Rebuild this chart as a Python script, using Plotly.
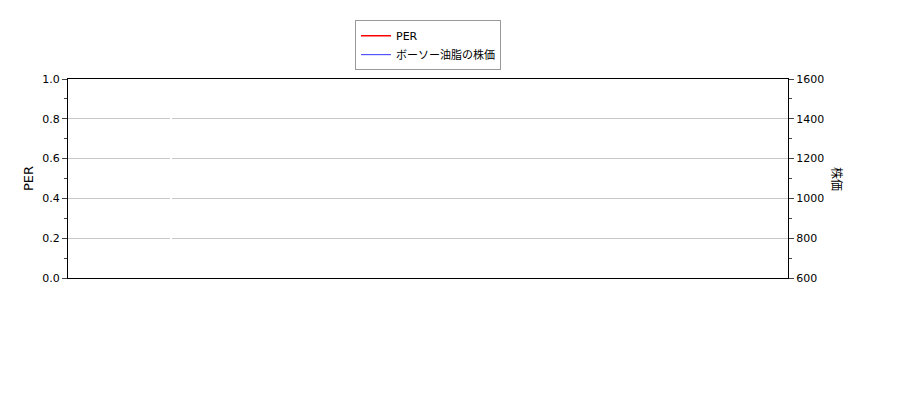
import plotly.graph_objects as go
import pandas as pd

dates = ["2018-09-25","2018-09-27","2018-10-05","2018-10-08","2018-10-12","2018-10-16","2018-10-19","2018-10-22","2018-10-26","2018-11-02","2018-11-05","2018-11-07","2018-11-16","2018-11-22","2018-11-26","2018-11-28","2018-12-05","2018-12-10","2018-12-12","2018-12-17","2018-12-20","2018-12-25","2018-12-27","2018-12-28","2019-01-04","2019-01-07","2019-01-08","2019-01-15","2019-01-18","2019-01-22","2019-01-25","2019-01-29","2019-01-31","2019-02-01","2019-02-05","2019-02-08","2019-02-12","2019-02-15","2019-02-19","2019-02-22","2019-02-25","2019-03-08","2019-03-11","2019-03-13","2019-03-15","2019-03-19","2019-03-22","2019-03-25","2019-03-29","2019-04-08","2019-04-12","2019-04-15","2019-04-18","2019-04-22","2019-04-24","2019-04-26","2019-05-07","2019-05-09","2019-05-10","2019-05-14","2019-05-16","2019-05-21","2019-05-24","2019-06-05","2019-06-10","2019-06-13","2019-06-19","2019-06-24","2019-06-28","2019-07-01","2019-07-03","2019-07-08","2019-07-12","2019-07-17","2019-07-22","2019-07-25","2019-08-01","2019-08-08","2019-08-13","2019-08-19","2019-08-22","2019-08-26","2019-09-05","2019-09-13","2019-09-19","2019-09-24","2019-09-26","2019-09-30","2019-10-07","2019-10-10","2019-10-15","2019-10-22","2019-11-01","2019-11-08","2019-11-15","2019-11-22","2019-12-02","2019-12-12","2019-12-20","2020-01-07","2020-01-10","2020-01-14","2020-01-20","2020-01-28","2020-01-31","2020-02-03","2020-02-06","2020-02-10","2020-02-14","2020-02-18","2020-02-21","2020-02-25","2020-02-28","2020-03-02","2020-03-05","2020-03-09","2020-03-10","2020-03-13","2020-03-17","2020-03-19","2020-03-23","2020-03-25","2020-03-27","2020-03-30","2020-04-01","2020-04-06","2020-04-07","2020-04-09","2020-04-13","2020-04-17","2020-04-20","2020-04-23","2020-04-28","2020-05-01","2020-05-05","2020-05-11","2020-05-13","2020-05-14","2020-05-15","2020-05-18","2020-05-20","2020-06-01","2020-07-01","2020-08-01","2020-09-22"]
prices = [1490,1500,1500,1480,1480,1470,1460,1490,1480,1480,1430,1450,1450,1430,1440,1470,1460,1420,1450,1450,1420,1430,1380,1300,1230,1300,1260,1260,1270,1270,1290,1290,1360,1280,1270,1260,1300,1320,1310,1350,1380,1380,1390,1330,1280,1300,1300,1380,1380,1370,1340,1280,1310,1230,1310,1280,1300,1270,1230,1200,1230,1180,1120,1120,1050,1040,1010,960,990,1010,980,990,970,1000,1020,1000,990,950,950,930,950,940,910,880,870,910,950,910,910,890,860,880,890,880,880,870,860,850,860,870,880,920,910,920,940,920,960,970,950,920,910,900,870,860,820,760,800,660,620,650,700,750,700,660,680,680,760,720,750,760,800,790,800,790,760,750,750,850,1000,1070,1080,1075,1075,1075,1075]
per_dates = [None]
per_values = [None]
tick_dates = ["2018-09-25","2018-10-16","2018-11-05","2018-11-26","2018-12-14","2019-01-10","2019-01-31","2019-02-21","2019-03-13","2019-04-03","2019-04-23","2019-05-21","2019-06-10","2019-06-28","2019-07-19","2019-08-08","2019-08-29","2019-09-19","2019-10-10","2019-11-01","2019-11-22","2019-12-12","2020-01-07","2020-01-28","2020-02-18","2020-03-10","2020-03-31","2020-04-20","2020-05-14","2020-06-03","2020-06-23","2020-07-13","2020-08-04","2020-08-25","2020-09-14"]

fig = go.Figure()
fig.add_trace(go.Scatter(x=per_dates, y=per_values, name="PER", mode="lines", line=dict(color="red", width=1.5)))
fig.add_trace(go.Scatter(x=pd.to_datetime(dates), y=prices, name="ボーソー油脂の株価", mode="lines", line=dict(color="blue", width=0.8), yaxis="y2"))

td = pd.to_datetime(tick_dates)
fig.update_layout(
    width=900, height=400, margin=dict(l=60, r=120, t=60, b=130),
    plot_bgcolor="white", paper_bgcolor="white",
    font=dict(family="DejaVu Sans, Noto Sans CJK JP", size=11, color="black"),
    showlegend=True,
    legend=dict(x=0.5, xanchor="center", y=1.17, yanchor="middle", bordercolor="#999", borderwidth=1, font=dict(size=11)),
    xaxis=dict(range=["2018-09-25", "2020-09-22"], tickvals=list(td), automargin=False,
               ticktext=[f"{d.year}-{d.month}-{d.day}" for d in td], tickangle=-90,
               showgrid=True, gridcolor="#c8c8c8", showline=True, linecolor="black", mirror=True, ticks="outside"),
    yaxis=dict(title=dict(text="PER", standoff=5), range=[0, 1], dtick=0.2, tickformat=".1f", showgrid=True, gridcolor="#c8c8c8",
               showline=True, linecolor="black", ticks="outside", zeroline=False, automargin=False, minor=dict(dtick=0.1, ticks="outside")),
    yaxis2=dict(overlaying="y", side="right", range=[600, 1600], dtick=200, automargin=False,
                showgrid=False, showline=True, linecolor="black", ticks="outside", minor=dict(dtick=100, ticks="outside")),
    annotations=[dict(text="株価", textangle=90, xref="paper", yref="paper", x=1.0, y=0.5, xshift=58,
                      showarrow=False, font=dict(size=12))],
)
fig.write_html("out.html")
